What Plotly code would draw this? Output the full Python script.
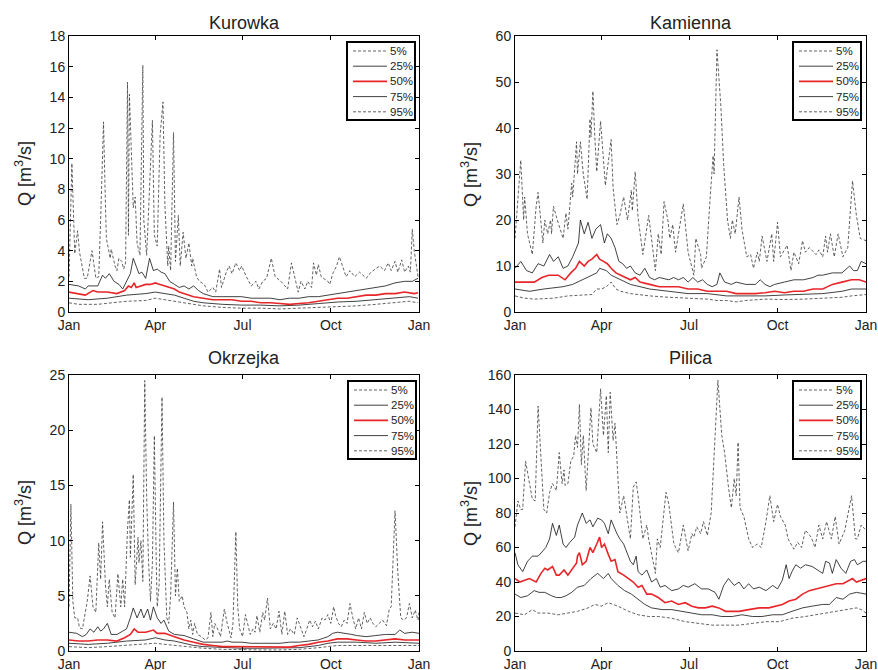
import plotly.graph_objects as go

# ---------------- data (day of year, discharge m3/s) ----------------
month_ticks = [0, 90, 181, 273, 365]
month_labels = ["Jan", "Apr", "Jul", "Oct", "Jan"]
series_names = ["5%", "25%", "50%", "75%", "95%"]
station_names = ["Kurowka", "Kamienna", "Okrzejka", "Pilica"]

kur_95 = [(0,2.3),(3,9.7),(6,3.8),(9,5.3),(11,3.9),(16,2.2),(19,2.2),(24,4.0),(28,2.2),(31,2.3),(33,6.0),(36,12.4),(38,7.0),(39,4.8),(43,3.5),(44,4.1),(48,3.0),(50,2.7),(52,3.5),(55,3.3),(57,2.8),(59,3.2),(61,15.0),(62,5.0),(63,14.2),(67,6.8),(69,7.5),(71,4.5),(74,3.7),(77,16.1),(78,6.0),(81,3.7),(87,12.5),(89,5.0),(92,4.3),(95,11.5),(98,13.7),(100,7.0),(103,3.0),(104,4.3),(106,2.7),(109,11.7),(111,3.3),(114,6.3),(116,3.0),(119,5.2),(122,3.5),(125,4.5),(128,3.0),(129,3.5),(133,2.3),(136,2.0),(141,1.8),(145,1.3),(150,1.6),(153,1.3),(157,2.8),(159,1.6),(164,2.6),(167,3.0),(170,2.5),(174,3.2),(178,2.7),(180,3.0),(185,2.3),(190,1.7),(195,2.0),(198,1.5),(202,2.0),(206,2.2),(211,3.5),(215,2.3),(221,2.0),(228,1.5),(232,3.2),(234,2.7),(239,1.3),(242,2.0),(246,1.5),(249,2.0),(253,1.6),(255,3.2),(258,2.4),(260,3.1),(263,2.3),(270,2.0),(272,1.8),(275,2.5),(279,3.0),(282,3.6),(286,2.8),(289,2.3),(293,2.7),(298,2.3),(303,2.6),(310,2.2),(315,2.6),(324,3.0),(329,2.7),(333,3.2),(336,2.7),(340,3.3),(343,2.6),(347,3.4),(350,2.6),(354,3.0),(356,2.6),(358,5.4),(360,4.0),(364,2.3)]
kur_75 = [(0,1.8),(10,1.7),(17,1.5),(20,1.7),(30,1.7),(35,2.4),(38,2.2),(42,2.5),(47,2.0),(52,1.8),(56,1.5),(60,2.0),(64,2.5),(67,3.5),(70,3.0),(73,2.5),(76,2.6),(80,2.2),(84,3.5),(88,2.7),(92,2.8),(96,2.6),(100,2.5),(105,2.0),(110,1.8),(115,1.6),(120,1.7),(125,1.5),(130,1.7),(135,1.4),(140,1.2),(150,1.0),(160,1.0),(170,1.0),(180,1.0),(190,0.9),(200,0.9),(210,0.9),(220,0.8),(230,0.9),(240,0.9),(250,1.0),(260,1.0),(270,1.1),(280,1.2),(290,1.3),(300,1.4),(310,1.5),(320,1.6),(330,1.7),(340,1.9),(350,2.0),(358,2.0),(364,2.2)]
kur_50 = [(0,1.3),(10,1.2),(17,1.1),(25,1.4),(30,1.3),(40,1.3),(50,1.2),(58,1.4),(62,1.7),(65,1.6),(68,1.9),(70,1.6),(75,1.7),(80,1.8),(85,1.8),(90,1.9),(95,1.8),(100,1.7),(105,1.6),(110,1.5),(115,1.3),(120,1.2),(130,1.0),(140,0.9),(150,0.8),(160,0.8),(170,0.8),(180,0.7),(190,0.7),(200,0.6),(210,0.6),(220,0.55),(230,0.5),(240,0.55),(250,0.6),(260,0.7),(270,0.8),(280,0.9),(290,0.9),(300,1.0),(310,1.1),(320,1.1),(330,1.2),(340,1.2),(350,1.3),(360,1.2),(364,1.25)]
kur_25 = [(0,0.9),(20,0.8),(40,0.9),(60,1.1),(80,1.2),(90,1.3),(100,1.2),(110,1.1),(120,0.9),(130,0.7),(140,0.6),(160,0.5),(180,0.45),(200,0.45),(220,0.4),(240,0.45),(260,0.55),(280,0.65),(300,0.7),(320,0.8),(340,0.9),(355,1.0),(364,0.9)]
kur_05 = [(0,0.6),(10,0.5),(30,0.5),(60,0.7),(80,0.75),(90,0.9),(100,0.8),(120,0.6),(140,0.4),(160,0.3),(180,0.25),(200,0.25),(220,0.2),(240,0.25),(260,0.3),(280,0.35),(300,0.4),(320,0.5),(340,0.6),(355,0.7),(364,0.6)]

kam_95 = [(0,16),(6,33),(9,20),(10,25),(13,17),(15,15),(18,12.5),(22,23),(24,26),(29,15),(31,20),(34,17),(37,20),(38,17),(40,23),(44,20),(50,16),(53,21.5),(55,18),(59,28),(60,25),(64,37),(65,30),(68,37),(71,30),(75,24.5),(78,42),(79,38),(81,48),(83,38),(85,30.5),(89,41.5),(91,36),(94,27.5),(96,31),(100,37.5),(102,27),(106,19),(109,21),(113,25),(117,20),(121,26.5),(122,22),(125,30.5),(128,20.5),(133,12.5),(139,21),(146,9),(149,17),(152,12.5),(155,24),(159,20),(161,16),(164,19),(167,13),(170,17),(175,23.5),(180,13),(186,8),(188,16),(193,12.5),(194,9.5),(199,12),(203,25),(206,34),(207,30),(210,57),(214,45),(217,32),(221,20),(224,16),(226,20),(229,17),(233,25),(236,18),(241,12),(245,12.5),(248,9.5),(252,13),(254,11),(257,16.5),(262,11),(267,17),(269,11),(273,19.5),(276,12),(283,14.5),(287,9),(290,13),(295,10.5),(299,15.5),(302,13),(306,14),(313,12.5),(316,13.5),(320,12),(323,16.5),(325,13),(328,17),(332,12),(336,17),(341,12),(346,14),(351,28.5),(355,21),(359,16),(365,15.5)]
kam_75 = [(0,9.5),(6,11),(12,9),(18,8.5),(24,10.5),(30,10),(36,12.5),(40,11),(45,12),(50,9.5),(55,10),(60,12),(66,15),(68,20),(72,17),(76,19.5),(80,16),(84,18),(89,19),(93,15),(96,17),(100,16),(104,14),(108,11),(112,10.5),(116,9.5),(120,10),(125,8.5),(130,8),(135,9.5),(140,7.5),(145,7),(150,7.5),(160,7),(165,7.5),(170,7),(175,7.5),(180,6.5),(185,7.5),(190,6.5),(195,7),(200,6),(205,5.5),(210,6),(213,8.5),(218,6.5),(225,6),(230,6.5),(240,6),(250,6),(255,7),(260,6),(265,5.5),(270,6),(280,6.5),(290,7),(300,7),(310,7.5),(315,8),(320,8),(330,8.5),(340,8.5),(348,10),(352,9),(356,9),(360,11),(365,10.5)]
kam_50 = [(0,6.5),(10,6.5),(20,6.5),(28,7.5),(35,8),(45,8),(52,7),(58,8.5),(63,9.5),(67,11),(72,10),(76,11),(80,11.5),(85,12.5),(88,11.5),(92,11),(96,10.5),(100,9.5),(105,8.5),(110,8),(115,7.5),(120,7),(125,7.5),(130,6.5),(140,6),(150,5.5),(160,5.5),(170,5.5),(180,5),(190,5),(200,4.5),(210,4.5),(220,4.5),(230,4),(240,4),(250,4),(260,4.2),(270,4.5),(280,4.2),(290,4.5),(300,4.5),(310,5),(320,5),(330,6),(340,6.5),(350,7),(358,7),(365,6.5)]
kam_25 = [(0,5),(15,4.5),(30,5),(50,5.5),(60,6),(70,7),(80,8),(85,8.5),(88,9.5),(95,9),(100,8),(110,7),(120,6),(130,5.5),(140,5),(160,4.5),(180,4),(200,4),(220,3.5),(240,3.5),(260,3.5),(280,3.7),(300,3.8),(320,4),(340,4.5),(350,5),(365,5)]
kam_05 = [(0,3.5),(10,3),(20,2.8),(40,3),(55,3.5),(70,3.7),(80,3.8),(85,5),(90,5),(95,5.5),(100,6.5),(105,5),(110,4.5),(120,4),(140,3.5),(160,3.2),(180,3),(200,2.8),(210,2.5),(220,2.5),(230,2.2),(240,2.5),(260,2.8),(280,2.7),(300,2.8),(320,3),(340,3.2),(350,3.5),(365,3.8)]

okr_95 = [(0,4),(2,13.3),(4,4.5),(6,3),(9,3),(11,2.1),(14,2),(19,4.5),(22,6.8),(25,4),(28,3.5),(31,9.8),(33,6.5),(35,11.7),(38,6),(40,4),(42,6.5),(45,3.5),(48,3),(51,7),(54,4),(56,6.5),(58,4),(61,11),(63,13.7),(64,8.5),(67,16),(69,6),(72,10.3),(73,8),(75,10),(77,6.3),(79,24.5),(81,14),(83,8),(85,4.5),(87,8),(89,19.5),(91,8),(92,4),(94,6),(97,23),(99,10),(102,3),(104,2.5),(106,5),(109,13.5),(111,5),(113,7.5),(115,4.5),(118,5),(120,4),(123,3.5),(125,2),(127,2.8),(129,1.5),(131,2.5),(134,1.5),(138,1.3),(142,1),(145,1.2),(148,3.5),(150,1.3),(152,2.5),(155,2),(158,1.3),(162,3.8),(165,2.5),(169,1.2),(171,2.5),(174,10.8),(176,4),(178,2),(181,1.3),(184,3.3),(186,2.5),(189,1.5),(192,2),(194,1.7),(196,3.2),(199,1.7),(202,3.5),(204,2.8),(207,4.8),(210,2),(213,2.5),(216,2),(219,3.6),(222,1.5),(225,3.6),(228,1.5),(231,2),(235,1.5),(238,3),(242,2),(245,1.3),(248,2),(251,2.8),(254,2.2),(257,2.7),(260,2),(264,3),(267,2.8),(270,3.3),(273,2.5),(276,4),(278,3.2),(281,2.5),(284,2.2),(287,2.8),(290,2.5),(293,4.3),(296,3),(299,2),(302,3),(305,2),(308,3.5),(311,2.5),(314,3),(317,2.5),(320,2.2),(323,2.5),(327,2.8),(331,2.3),(334,3.8),(336,4),(340,12.7),(343,7),(346,3),(349,2.8),(352,3),(355,4.3),(358,3),(361,3.7),(364,2.8),(365,3.5)]
okr_75 = [(0,1.7),(8,1.6),(14,1.3),(18,1.5),(22,2),(26,1.7),(30,2.2),(33,1.8),(36,2.0),(40,2.5),(44,1.5),(50,1.5),(56,1.8),(60,2.0),(64,3.0),(67,3.9),(71,3.0),(75,3.8),(78,3.0),(82,3.8),(85,2.8),(88,4.0),(92,3.0),(96,2.5),(99,2.8),(104,1.8),(110,1.5),(120,1.4),(130,1.1),(140,0.8),(150,0.8),(160,0.8),(165,0.9),(170,0.8),(180,0.8),(190,0.7),(200,0.7),(210,0.7),(220,0.7),(230,0.8),(240,0.8),(250,0.9),(260,1.0),(270,1.3),(275,1.6),(280,1.7),(290,1.6),(295,1.5),(300,1.4),(310,1.3),(320,1.4),(330,1.5),(340,1.5),(345,1.9),(350,1.6),(358,1.7),(365,1.6)]
okr_50 = [(0,1.0),(10,0.9),(20,0.9),(30,1.0),(40,1.0),(50,0.9),(58,1.2),(64,1.5),(68,2.0),(72,1.7),(80,1.7),(88,1.9),(92,1.6),(100,1.6),(110,1.3),(120,1.0),(130,0.8),(140,0.6),(150,0.5),(160,0.4),(170,0.4),(180,0.4),(190,0.35),(200,0.35),(210,0.35),(220,0.35),(230,0.35),(240,0.5),(250,0.6),(260,0.8),(270,0.9),(280,1.1),(290,1.1),(300,1.0),(310,0.9),(320,0.9),(330,1.0),(340,1.1),(350,1.0),(365,1.0)]
okr_25 = [(0,0.7),(20,0.6),(40,0.7),(60,0.9),(80,1.0),(90,1.2),(100,1.0),(110,0.9),(120,0.7),(130,0.5),(140,0.4),(160,0.3),(180,0.25),(200,0.25),(220,0.25),(240,0.3),(260,0.5),(270,0.7),(280,0.8),(300,0.8),(320,0.7),(340,0.8),(365,0.7)]
okr_05 = [(0,0.4),(20,0.3),(40,0.4),(60,0.5),(80,0.6),(90,0.7),(100,0.6),(120,0.4),(140,0.25),(160,0.15),(180,0.1),(200,0.1),(220,0.1),(240,0.15),(260,0.3),(280,0.5),(300,0.5),(320,0.5),(340,0.5),(365,0.5)]

pil_95 = [(0,72),(3,87),(6,82),(8,82),(11,110),(14,100),(18,88),(21,87),(24,142),(26,122),(30,82),(33,80),(36,92),(39,97),(43,93),(46,115),(49,97),(51,105),(52,96),(55,97),(58,110),(61,113),(63,125),(65,118),(67,143),(69,108),(71,125),(74,93),(79,141),(81,120),(85,115),(89,152),(92,125),(95,148),(97,115),(99,150),(102,122),(104,132),(109,80),(113,90),(116,80),(120,65),(123,95),(126,98),(128,90),(133,65),(137,73),(139,65),(146,45),(148,65),(151,60),(157,92),(160,85),(165,63),(167,60),(170,57),(175,73),(180,58),(184,68),(186,66),(189,72),(193,68),(196,75),(200,67),(204,80),(207,110),(211,157),(215,125),(218,115),(222,95),(225,83),(228,100),(230,90),(232,121),(234,83),(238,78),(243,65),(247,60),(252,62),(256,60),(261,75),(265,90),(269,75),(273,85),(276,78),(281,73),(284,65),(290,59),(294,63),(298,60),(302,70),(308,66),(312,60),(316,73),(320,65),(324,75),(329,65),(333,78),(337,62),(343,70),(350,90),(354,65),(356,65),(360,73),(365,70)]
pil_75 = [(0,57),(3,50),(8,46),(13,52),(18,55),(24,55),(29,58),(32,60),(36,65),(39,74),(43,67),(46,73),(50,62),(53,60),(57,63),(62,66),(65,73),(70,80),(74,74),(78,76),(81,72),(86,77),(90,76),(93,74),(97,68),(100,76),(106,68),(109,65),(113,62),(116,58),(120,52),(123,50),(126,55),(128,46),(132,44),(137,47),(142,40),(147,42),(151,37),(156,38),(163,35),(170,36),(175,38),(180,37),(187,39),(194,36),(201,36),(208,34),(212,30),(217,38),(222,42),(228,38),(233,40),(238,36),(243,39),(248,36),(254,37),(261,35),(268,38),(273,36),(278,41),(282,50),(285,42),(288,46),(292,50),(297,48),(302,50),(309,49),(315,47),(320,45),(323,52),(327,51),(330,45),(334,53),(339,48),(344,45),(349,52),(353,53),(356,50),(362,52),(365,52)]
pil_50 = [(0,42),(5,40),(10,41),(15,42),(22,40),(27,45),(31,48),(34,47),(39,49),(43,44),(46,44),(51,47),(55,44),(60,48),(64,51),(65,55),(67,57),(70,50),(74,52),(78,60),(81,57),(85,62),(88,66),(90,60),(93,62),(97,56),(100,52),(104,53),(107,46),(113,44),(118,42),(123,40),(128,37),(132,38),(137,33),(142,33),(149,31),(156,28),(163,29),(170,27),(177,28),(184,26),(191,25),(198,25),(205,26),(212,25),(219,23),(226,23),(233,23),(243,24),(254,25),(264,25),(271,26),(278,27),(285,29),(292,30),(299,33),(306,35),(313,36),(320,37),(327,38),(334,39),(341,39),(348,41),(351,42),(355,40),(360,41),(365,42)]
pil_25 = [(0,33),(6,31),(13,32),(20,35),(25,34),(31,34),(38,32),(43,31),(48,31),(53,32),(59,34),(65,37),(72,38),(79,42),(86,45),(92,42),(97,45),(100,42),(107,38),(114,35),(121,33),(128,30),(135,27),(142,25),(153,24),(163,24),(174,23),(184,22),(194,21),(205,21),(215,20),(226,20),(236,21),(247,20),(257,20),(268,21),(278,21),(288,23),(299,25),(309,26),(320,27),(327,27),(334,31),(341,30),(348,33),(355,34),(365,33)]
pil_05 = [(0,22),(10,21),(18,24),(24,22),(34,22),(45,21),(55,22),(65,23),(76,25),(83,27),(90,26),(97,28),(107,26),(118,23),(128,21),(139,20),(149,20),(163,19),(177,17),(191,16),(205,15),(219,15),(233,15),(247,16),(261,17),(275,17),(288,19),(302,20),(313,21),(323,22),(337,23),(348,24),(355,25),(360,24),(365,22)]

y_max = [18, 60, 25, 160]
y_step = [2, 10, 5, 20]

panel_data = [
    [kur_05, kur_25, kur_50, kur_75, kur_95],
    [kam_05, kam_25, kam_50, kam_75, kam_95],
    [okr_05, okr_25, okr_50, okr_75, okr_95],
    [pil_05, pil_25, pil_50, pil_75, pil_95],
]

# ---------------- styling ----------------
W, H = 878, 670
FONT = "Liberation Sans, Arial, Helvetica, sans-serif"
styles = [
    dict(color="#3a3a3a", width=0.8, dash="3px,2px"),
    dict(color="#111111", width=0.8, dash="solid"),
    dict(color="#e8262a", width=1.6, dash="solid"),
    dict(color="#111111", width=0.8, dash="solid"),
    dict(color="#3a3a3a", width=0.8, dash="3px,2px"),
]

# pixel boxes of the four panels: (left, right, top, bottom)
boxes = [(69, 419, 36, 312), (515, 866, 36, 312), (69, 419, 375, 651), (515, 866, 375, 651)]
title_y = [23, 23, 358, 358]
legend_tr = [(415, 42), (861, 42), (416, 381), (861, 381)]


def px(x):
    return x / W


def py(y):
    return 1 - y / H


fig = go.Figure()
layout = dict(width=W, height=H, margin=dict(l=0, r=0, t=0, b=0, autoexpand=False),
              paper_bgcolor="white", plot_bgcolor="white",
              font=dict(family=FONT, color="#222"), showlegend=False)
annotations = []
shapes = []

for i in range(4):
    sfx = "" if i == 0 else str(i + 1)
    for k in [4, 0, 3, 1, 2]:
        pts = panel_data[i][k]
        xs = [p[0] for p in pts]
        ys = [p[1] for p in pts]
        fig.add_trace(go.Scatter(x=xs, y=ys, mode="lines", name=series_names[k],
                                 line=styles[k], xaxis="x" + sfx, yaxis="y" + sfx,
                                 hoverinfo="skip"))
    l, r, t, b = boxes[i]
    axcommon = dict(showline=True, linecolor="black", linewidth=1, mirror="ticks",
                    ticks="inside", ticklen=4, tickcolor="black", showgrid=False,
                    zeroline=False, automargin=False,
                    tickfont=dict(size=14, family=FONT, color="#222"))
    layout["xaxis" + sfx] = dict(domain=[px(l), px(r)], anchor="y" + sfx, range=[0, 365],
                                 tickvals=month_ticks, ticktext=month_labels, **axcommon)
    layout["yaxis" + sfx] = dict(domain=[py(b), py(t)], anchor="x" + sfx,
                                 range=[0, y_max[i]], dtick=y_step[i], tick0=0, **axcommon)
    # title and y label
    annotations.append(dict(text=station_names[i], x=px((l + r) / 2), y=py(title_y[i]),
                            xref="paper", yref="paper", showarrow=False,
                            xanchor="center", yanchor="middle",
                            font=dict(size=18, family=FONT, color="#222")))
    annotations.append(dict(text="Q [m<sup>3</sup>/s]", x=px(l - 46), y=py((t + b) / 2),
                            xref="paper", yref="paper", showarrow=False, textangle=-90,
                            xanchor="center", yanchor="middle",
                            font=dict(size=18, family=FONT, color="#222")))
    # legend box (MATLAB style)
    lx, ly = legend_tr[i]
    shapes.append(dict(type="rect", xref="paper", yref="paper",
                       x0=px(lx - 68), x1=px(lx), y0=py(ly + 78), y1=py(ly),
                       line=dict(color="black", width=2), fillcolor="white", layer="above"))
    for j in range(5):
        yy = ly + 9 + 15.2 * j
        shapes.append(dict(type="line", xref="paper", yref="paper",
                           x0=px(lx - 62), x1=px(lx - 28), y0=py(yy), y1=py(yy),
                           line=styles[j], layer="above"))
        annotations.append(dict(text=series_names[j], x=px(lx - 27), y=py(yy),
                                xref="paper", yref="paper", showarrow=False,
                                xanchor="left", yanchor="middle",
                                font=dict(size=11.5, family=FONT, color="#222")))

layout["annotations"] = annotations
layout["shapes"] = shapes
fig.update_layout(**layout)
fig.write_html("out.html")
